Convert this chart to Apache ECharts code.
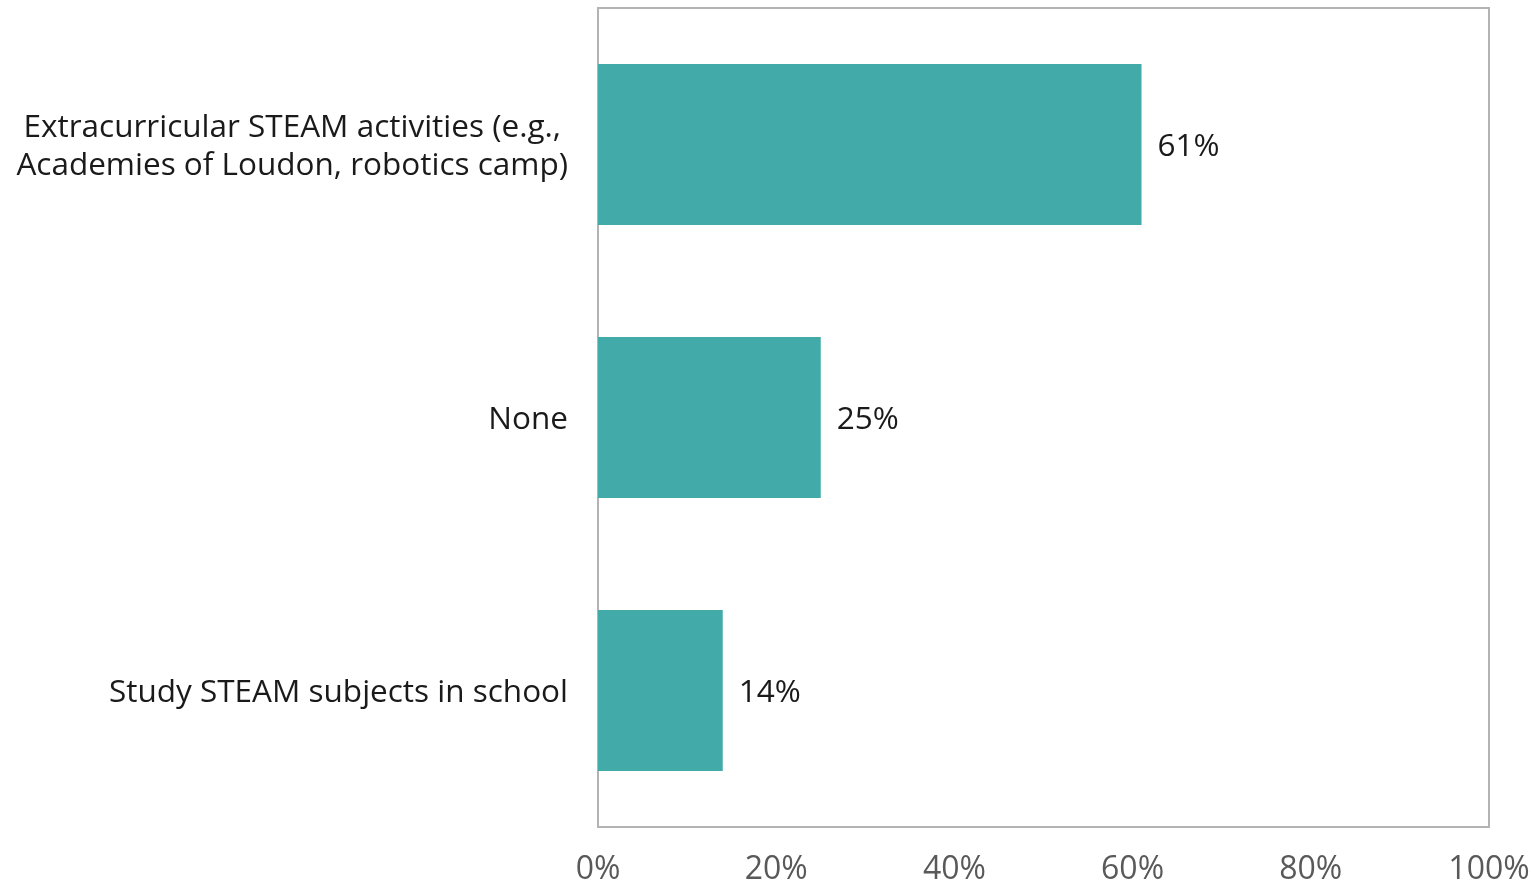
<!DOCTYPE html>
<html>
<head>
<meta charset="utf-8">
<script src="https://cdn.jsdelivr.net/npm/echarts@6/dist/echarts.min.js"></script>
<style>
  html, body { margin: 0; padding: 0; background: #ffffff; }
  #chart { width: 1532px; height: 882px; }
</style>
</head>
<body>
<div id="chart"></div>
<script>
// Survey responses: STEAM exposure
const categories = [
  'Extracurricular STEAM activities (e.g.,\nAcademies of Loudon, robotics camp)',
  'None',
  'Study STEAM subjects in school'
];
const percents = [61, 25, 14];
const tickValues = [0, 20, 40, 60, 80, 100];

const FONT = '"Open Sans", Lato, sans-serif';
const SIZE = 31.5;

const chart = echarts.init(document.getElementById('chart'));
chart.setOption({
  animation: false,
  grid: {
    left: 598, right: 43, top: 8, bottom: 55,
    show: true, borderColor: '#b3b3b3', borderWidth: 2,
    containLabel: false,
    outerBoundsMode: 'none'
  },
  xAxis: {
    type: 'value',
    min: tickValues[0], max: tickValues[tickValues.length - 1], interval: 20,
    axisLine: { show: false }, axisTick: { show: false }, splitLine: { show: false },
    axisLabel: {
      formatter: v => v + '%',
      color: '#595959', fontFamily: FONT, fontSize: 32, margin: 27
    }
  },
  yAxis: {
    type: 'category', inverse: true, data: categories,
    axisLine: { show: false }, axisTick: { show: false },
    axisLabel: {
      color: '#1a1a1a', fontFamily: FONT, fontSize: SIZE, margin: 30,
      lineHeight: 38,
      padding: [6, 0, 0, 0],
      // multi-line labels are centred line by line
      formatter: v => v.indexOf('\n') >= 0
        ? v.split('\n').map(s => '{c|' + s + '}').join('\n')
        : v,
      rich: { c: { align: 'center', fontFamily: FONT, fontSize: SIZE, color: '#1a1a1a', lineHeight: 38 } }
    }
  },
  series: [{
    type: 'bar', data: percents,
    barCategoryGap: '41%',
    itemStyle: { color: '#43aaaa' },
    label: {
      show: true, position: 'right', distance: 16, offset: [0, 3],
      formatter: p => p.value + '%',
      color: '#1a1a1a', fontFamily: FONT, fontSize: SIZE
    }
  }]
});
</script>
</body>
</html>
